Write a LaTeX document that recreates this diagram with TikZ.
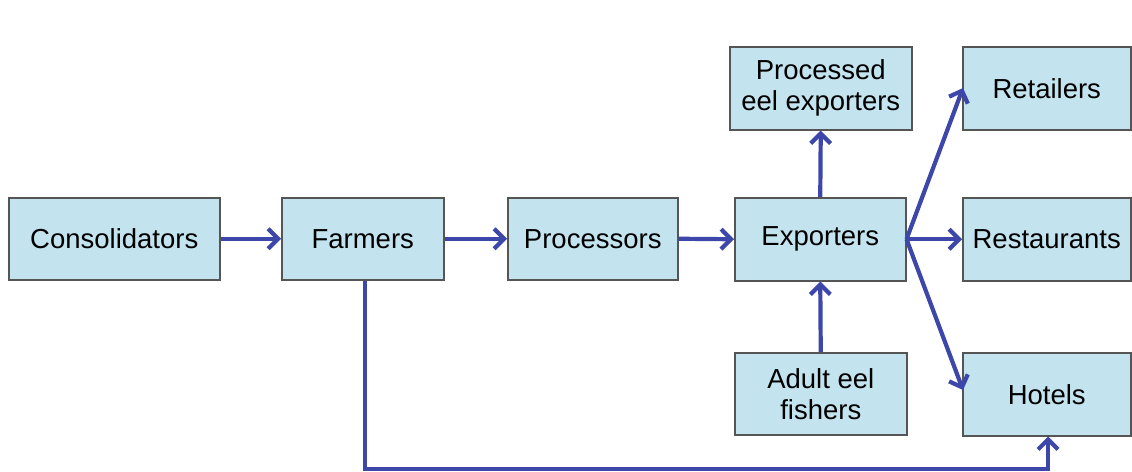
\documentclass[tikz,border=0pt]{standalone}
\usepackage{fontspec}
\setmainfont{Liberation Sans}
\usetikzlibrary{arrows.meta}
\definecolor{boxfill}{HTML}{C3E4EF}
\definecolor{boxline}{HTML}{555555}
\definecolor{arrowc}{HTML}{3D47AA}
\tikzset{
  box/.style={draw=boxline, line width=1.5pt, fill=boxfill, anchor=north west, inner sep=0pt,
    align=center, font=\fontsize{27.5}{31}\selectfont},
  flow/.style={draw=arrowc, line width=4.2pt, -{Straight Barb[length=10pt,width=20pt,line width=4.2pt]}},
}
\begin{document}
\begin{tikzpicture}[x=1pt,y=-1pt]
\useasboundingbox (0,0) rectangle (1132,471);
\node[box, minimum width=211pt, minimum height=82pt] (cons) at (8,197) {Consolidators};
\node[box, minimum width=162pt, minimum height=82pt] (farm) at (281,197) {Farmers};
\node[box, minimum width=170pt, minimum height=82pt] (proc) at (507,197) {Processors};
\node[box, minimum width=171pt, minimum height=83pt] (exp) at (734,197) {Exporters};
\node[box, minimum width=182pt, minimum height=83pt] (pee) at (729,46) {Processed\\eel exporters};
\node[box, minimum width=168pt, minimum height=83pt] (ret) at (962,46) {Retailers};
\node[box, minimum width=168pt, minimum height=83pt] (rest) at (962,197) {Restaurants};
\node[box, minimum width=172pt, minimum height=82pt] (fish) at (734,352) {Adult eel\\fishers};
\node[box, minimum width=168pt, minimum height=83pt] (hot) at (962,352) {Hotels};
\coordinate (c1) at (365,469);
\coordinate (c2) at (1048,469);
\coordinate (tr) at (963,88);
\coordinate (th) at (963,390);

\draw[flow] (cons.east) -- (farm.west);
\draw[flow] (farm.east) -- (proc.west);
\draw[flow] (proc.east) -- (exp.west);
\draw[flow] (exp.north) -- (pee.south);
\draw[flow] (fish.north) -- (exp.south);
\draw[flow] (exp.east) -- (tr);
\draw[flow] (exp.east) -- (rest.west);
\draw[flow] (exp.east) -- (th);
\draw[flow] (farm.south -| c1) -- (c1) -- (c2) -- (hot.south -| c2);
\end{tikzpicture}
\end{document}
